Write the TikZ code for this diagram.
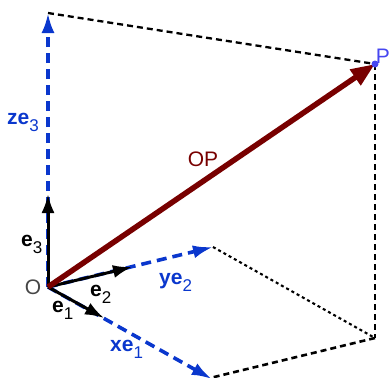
\documentclass[tikz,border=0pt]{standalone}
\usepackage{fontspec}
\setmainfont{Liberation Sans}
\usetikzlibrary{arrows.meta}
\definecolor{gblue}{RGB}{10,55,205}
\definecolor{pblue}{RGB}{70,70,240}
\definecolor{dred}{RGB}{120,0,0}
\definecolor{ogray}{RGB}{70,70,70}
\tikzset{
  bluevec/.style={gblue,line width=3.6pt,dash pattern=on 10pt off 6pt,-{Latex[length=20pt,width=13pt]}},
  unitvec/.style={black,line width=3pt,-{Latex[length=19pt,width=13pt]}},
  guide/.style={black,line width=2.3pt,dash pattern=on 6pt off 4pt},
  fineguide/.style={black,line width=2.1pt,dash pattern=on 3pt off 3pt},
  lab/.style={inner sep=0pt,font=\fontsize{21}{24}\selectfont},
}
\newcommand{\vlab}[2]{{\bfseries #1}\raisebox{-7pt}{\fontsize{17}{17}\selectfont #2}}
\begin{document}
\begin{tikzpicture}[x=1pt,y=-1pt]
\useasboundingbox (0,0) rectangle (392,378);
\coordinate (O) at (48,287);
\coordinate (Z) at (48,13);
\coordinate (Y) at (213,247);
\coordinate (X) at (210,378);
\coordinate (C) at (375,338);
\coordinate (P) at (375,64);
\coordinate (E1) at (104,318);
\coordinate (E2) at (132,267);
\coordinate (E3) at (48,194);
% guides
\draw[guide] (Z) -- (P);
\draw[guide,line width=2.9pt] (P) -- (C);
\draw[guide,line width=2.6pt] (C) -- (X);
\draw[fineguide] (Y) -- (C);
% blue scaled vectors
\draw[bluevec] (O) -- (Z);
\draw[bluevec] (O) -- (Y);
\draw[bluevec,shorten >=-2pt] (O) -- (X);
% unit vectors
\draw[unitvec] (O) -- (E1);
\draw[unitvec] (O) -- (E2);
\draw[unitvec] (O) -- (E3);
% OP
\draw[dred,line width=5.5pt,-{Triangle[length=24pt,width=18pt]}] (O) -- (P);
\fill[pblue] (P) circle (3.5pt);
% labels
\node[lab,ogray] (lO) at (33,287) {O};
\node[lab,pblue] (lP) at (383,56) {P};
\node[lab,dred] (lOP) at (203,159) {OP};
\node[lab,anchor=base west] (le3) at (21,246) {\vlab{e}{3}};
\node[lab,anchor=base west] (le2) at (90,296) {\vlab{e}{2}};
\node[lab,anchor=base west] (le1) at (52,312) {\vlab{e}{1}};
\node[lab,gblue,anchor=base west] (lye) at (159,284) {\vlab{ye}{2}};
\node[lab,gblue,anchor=base west] (lxe) at (110,351) {\vlab{xe}{1}};
\node[lab,gblue,anchor=base west] (lze) at (7,124) {\vlab{ze}{3}};
\end{tikzpicture}
\end{document}
